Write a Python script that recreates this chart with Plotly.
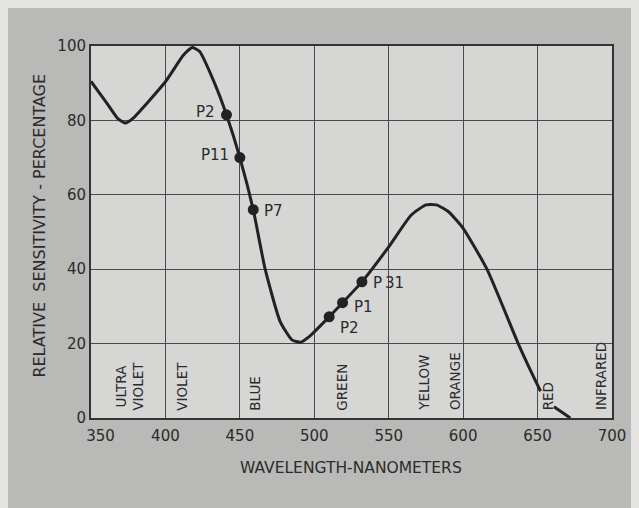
import plotly.graph_objects as go

# ---- data ----
wavelength = [350, 360, 368, 373, 378, 400, 412, 418, 423, 433, 441, 450, 459, 467, 477, 485, 491, 497,
              510, 519, 532, 550, 565, 575, 582, 590, 600, 616, 637, 645, 652, None, 661, 672]
sensitivity = [90.5, 85, 80.5, 79.3, 80.5, 90.4, 97.5, 99.6, 98.5, 90, 81.5, 70, 56, 40, 26, 21, 20.4, 22,
               27.2, 31, 36.6, 46, 54.5, 57.3, 57.3, 55.5, 51, 40, 20, 13, 7.2, None, 3, 0]

phosphor_names = ["P2", "P11", "P7", "P2", "P1", "P\u200931"]
phosphor_nm = [441, 450, 459, 510, 519, 532]
phosphor_val = [81.5, 70, 56, 27.2, 31, 36.6]
phosphor_label_side = ["left", "left", "right", "right_below", "right_low", "right"]

band_names = ["ULTRA<br>VIOLET", "VIOLET", "BLUE", "GREEN", "YELLOW", "ORANGE", "RED", "INFRARED"]
band_nm = [376, 411, 460, 518.5, 574, 595, 657.6, 693]

x_ticks = [350, 400, 450, 500, 550, 600, 650, 700]
x_ticktext = ["\u00a0\u00a0\u00a0\u00a0350", "400", "450", "500", "550", "600", "650", "700"]
y_ticks = [0, 20, 40, 60, 80, 100]

FONT = "DejaVu Sans"
INK = "#2b2b2b"

fig = go.Figure()

fig.add_trace(go.Scatter(x=wavelength, y=sensitivity, mode="lines",
                         line=dict(color="#222222", width=3, shape="spline", smoothing=0.5),
                         connectgaps=False, hoverinfo="skip", showlegend=False))

fig.add_trace(go.Scatter(x=phosphor_nm, y=phosphor_val, mode="markers",
                         marker=dict(color="#222222", size=11), showlegend=False))

for name, xv, yv, side in zip(phosphor_names, phosphor_nm, phosphor_val, phosphor_label_side):
    if side == "left":
        ax, ay, xa = -9, -3, "right"
    elif side == "right_below":
        ax, ay, xa = 9, 11, "left"
    elif side == "right_low":
        ax, ay, xa = 9, 4, "left"
    else:
        ax, ay, xa = 9, 1, "left"
    fig.add_annotation(x=xv, y=yv, text=name, showarrow=False, xanchor=xa, yanchor="middle",
                       xshift=ax, yshift=-ay, font=dict(family=FONT, size=15, color=INK))

for name, xv in zip(band_names, band_nm):
    fig.add_annotation(x=xv, y=1.5, text=name, showarrow=False, textangle=-90,
                       xanchor="center", yanchor="bottom",
                       font=dict(family=FONT, size=13.5, color=INK))

fig.add_annotation(xref="paper", yref="paper", x=-0.098, y=0.517, text="RELATIVE  SENSITIVITY - PERCENTAGE",
                   textangle=-90, showarrow=False, xanchor="center", yanchor="middle",
                   font=dict(family=FONT, size=16, color=INK))
fig.add_annotation(xref="paper", yref="paper", x=0.499, y=-0.135, text="WAVELENGTH-NANOMETERS",
                   showarrow=False, xanchor="center", yanchor="middle",
                   font=dict(family=FONT, size=15.5, color=INK))

fig.update_xaxes(range=[350, 700], tickvals=x_ticks, ticktext=x_ticktext,
                 showgrid=True, gridcolor="#4a4a4a", gridwidth=1.2, zeroline=False,
                 showline=True, linecolor="#333333", linewidth=2, mirror=True, ticks="",
                 ticklabelstandoff=3,
                 tickfont=dict(family=FONT, size=15, color=INK), fixedrange=True)
fig.update_yaxes(range=[0, 100], tickvals=y_ticks, ticktext=[str(v) for v in y_ticks],
                 showgrid=True, gridcolor="#4a4a4a", gridwidth=1.2, zeroline=False,
                 showline=True, linecolor="#333333", linewidth=2, mirror=True, ticks="",
                 tickfont=dict(family=FONT, size=15, color=INK), fixedrange=True)

fig.update_layout(width=631, height=500,
                  margin=dict(l=83, r=27, t=38, b=90),
                  paper_bgcolor="#b9b9b7", plot_bgcolor="#d6d6d4",
                  showlegend=False)

fig.write_html("out.html", post_script="document.body.style.backgroundColor='#e4e4e2';")
